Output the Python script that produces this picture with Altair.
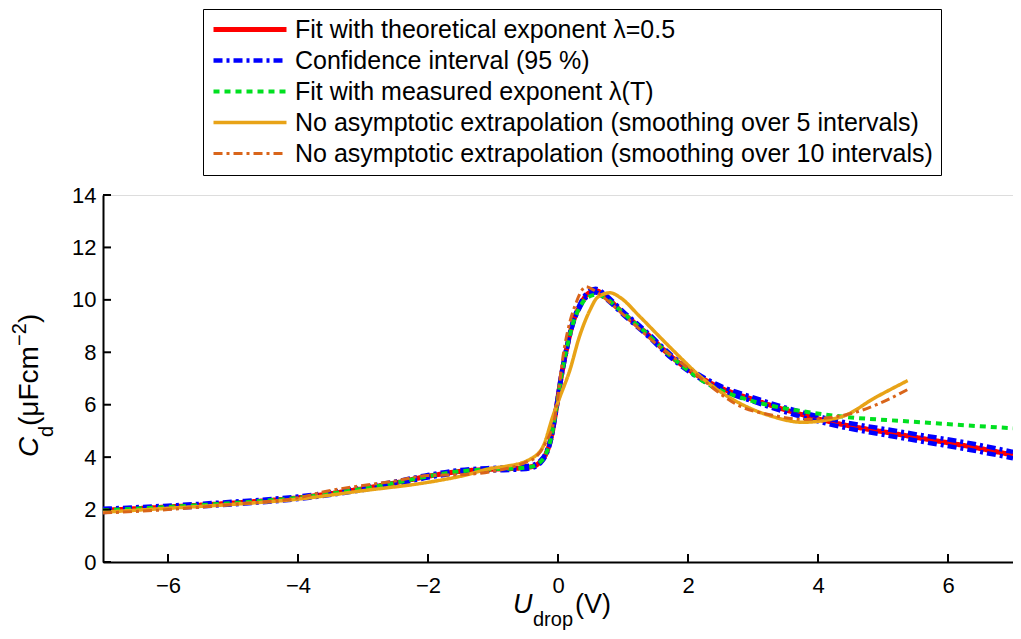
import altair as alt
import pandas as pd

# ---------------- data ----------------
series_names = [
    "Fit with theoretical exponent λ=0.5",
    "Confidence interval (95 %)",
    "Fit with measured exponent λ(T)",
    "No asymptotic extrapolation (smoothing over 5 intervals)",
    "No asymptotic extrapolation (smoothing over 10 intervals)",
]
series_colors = ["#FF0000", "#0000FF", "#00E020", "#E8A317", "#D9651A"]
series_dash = [[1, 0], [9, 4, 3, 4], [6, 5], [1, 0], [9, 4, 3, 4]]
series_width = [5, 3, 2.5, 2, 2.5]

red_x = [-7, -6, -5, -4, -3, -2.5, -2, -1.5, -1, -0.6, -0.4, -0.28, -0.2, -0.1, -0.03,
         0.05, 0.13, 0.23, 0.33, 0.46, 0.58, 0.74, 1.0, 1.35, 1.76, 2.33, 3.1, 4.1, 5.4, 6.41, 7]
red_y = [1.97, 2.1, 2.25, 2.45, 2.8, 3.02, 3.27, 3.46, 3.54, 3.58, 3.64, 3.8, 4.05, 4.8, 5.8,
         7.07, 8.1, 9.13, 9.74, 10.23, 10.35, 10.1, 9.5, 8.75, 7.8, 6.85, 6.12, 5.4, 4.8, 4.37, 4.08]

blue_hi = [2.03, 2.15, 2.3, 2.5, 2.85, 3.07, 3.32, 3.51, 3.59, 3.63, 3.69, 3.85, 4.1, 4.85, 5.85,
           7.12, 8.15, 9.18, 9.8, 10.3, 10.42, 10.17, 9.56, 8.81, 7.86, 6.92, 6.2, 5.5, 4.92, 4.5, 4.2]
blue_lo = [1.91, 2.05, 2.2, 2.4, 2.75, 2.97, 3.22, 3.41, 3.49, 3.53, 3.59, 3.75, 4.0, 4.75, 5.75,
           7.02, 8.05, 9.08, 9.68, 10.16, 10.28, 10.03, 9.44, 8.69, 7.74, 6.78, 6.04, 5.3, 4.68, 4.24, 3.96]

green_x = [-7, -6, -5, -4, -3, -2.5, -2, -1.5, -1, -0.6, -0.4, -0.28, -0.2, -0.1, -0.03, 0.05,
           0.13, 0.23, 0.33, 0.46, 0.6, 0.74, 1.0, 1.35, 1.76, 2.33, 2.84, 3.3, 3.76, 4.37, 5.4, 7]
green_y = [1.97, 2.1, 2.25, 2.45, 2.8, 3.02, 3.27, 3.46, 3.54, 3.58, 3.64, 3.8, 4.05, 4.8, 5.8, 7.07,
           8.1, 9.1, 9.7, 10.1, 10.2, 10.05, 9.5, 8.75, 7.8, 6.75, 6.25, 5.95, 5.75, 5.55, 5.36, 5.1]

or5_x = [-7, -6, -5, -4, -3, -2, -1.5, -1, -0.8, -0.43, -0.23, -0.08, 0.03, 0.18, 0.33, 0.49,
         0.61, 0.8, 0.95, 1.26, 1.56, 1.76, 2.3, 2.84, 3.3, 3.76, 4.37, 4.88, 5.38]
or5_y = [1.9, 2.05, 2.2, 2.4, 2.72, 3.04, 3.27, 3.58, 3.65, 3.92, 4.4, 5.55, 6.3, 7.3, 8.6, 9.6,
         10.1, 10.27, 10.1, 9.36, 8.6, 8.1, 6.85, 6.0, 5.55, 5.33, 5.55, 6.27, 6.92]

or10_x = [-7, -6, -5, -4, -3.56, -3, -2.53, -2, -1.5, -1, -0.5, -0.34, -0.2, -0.05, 0.1, 0.28,
          0.43, 0.53, 0.7, 1.0, 1.5, 2.0, 2.84, 3.3, 3.76, 4.4, 4.9, 5.38]
or10_y = [1.87, 2.0, 2.2, 2.45, 2.7, 2.92, 3.08, 3.3, 3.33, 3.46, 3.8, 4.0, 4.5, 5.5, 8.2, 9.9,
          10.5, 10.4, 10.1, 9.45, 8.35, 7.4, 5.9, 5.6, 5.44, 5.6, 6.0, 6.58]

x_ticks = [-6, -4, -2, 0, 2, 4, 6]
y_ticks = [0, 2, 4, 6, 8, 10, 12, 14]

# ---------------- build table ----------------
rows = []
def add(name, part, xs, ys):
    for i, (a, b) in enumerate(zip(xs, ys)):
        rows.append({"series": name, "part": part, "i": i, "x": a, "y": b})

add(series_names[0], "a", red_x, red_y)
add(series_names[1], "hi", red_x, blue_hi)
add(series_names[1], "lo", red_x, blue_lo)
add(series_names[2], "a", green_x, green_y)
add(series_names[3], "a", or5_x, or5_y)
add(series_names[4], "a", or10_x, or10_y)
df = pd.DataFrame(rows)

FONT = "Liberation Sans"
W, H = 910, 367

xscale = alt.Scale(domain=[-7, 7], nice=False, zero=False)
yscale = alt.Scale(domain=[0, 14], nice=False, zero=False)

x_axis = alt.Axis(values=x_ticks, title=None, ticks=False, tickSize=0, format="~g",
                  labelPadding=13, grid=False, domainColor="black",
                  domainWidth=2, labelFontSize=22, labelFont=FONT, labelColor="black")
y_axis = alt.Axis(values=y_ticks, title=None, ticks=False, tickSize=0, format="~g",
                  labelPadding=7, grid=False, domainColor="black",
                  domainWidth=2, labelFontSize=22, labelFont=FONT, labelColor="black")

legend = alt.Legend(
    title=None, orient="none", legendX=100, legendY=-186, direction="vertical",
    fillColor="white", strokeColor="black", padding=8,
    symbolType="M-1,0H6.3", symbolSize=400,
    labelFont=FONT, labelFontSize=25, labelColor="black", labelOffset=59,
    rowPadding=5, labelLimit=900,
)

enc = dict(
    x=alt.X("x:Q", scale=xscale, axis=x_axis),
    y=alt.Y("y:Q", scale=yscale, axis=y_axis),
    stroke=alt.Stroke("series:N",
                      scale=alt.Scale(domain=series_names, range=series_colors),
                      legend=legend),
    strokeDash=alt.StrokeDash("series:N",
                              scale=alt.Scale(domain=series_names, range=series_dash),
                              legend=legend),
    strokeWidth=alt.StrokeWidth("series:N",
                                scale=alt.Scale(domain=series_names, range=series_width),
                                legend=legend),
    detail="part:N",
    order="i:Q",
)

base = alt.Chart(df)
layers = []
for k, name in enumerate(series_names):
    layers.append(
        base.transform_filter(alt.datum.series == name)
        .mark_line(interpolate="monotone", clip=True, strokeCap="butt")
        .encode(**enc)
    )

# inward tick marks
ytick_df = pd.DataFrame({"v": y_ticks})
xtick_df = pd.DataFrame({"v": x_ticks})
yt = alt.Chart(ytick_df).mark_rule(color="black", strokeWidth=2).encode(
    y=alt.Y("v:Q", scale=yscale, axis=y_axis), x=alt.value(0), x2=alt.value(8))
xt = alt.Chart(xtick_df).mark_rule(color="black", strokeWidth=2).encode(
    x=alt.X("v:Q", scale=xscale, axis=x_axis), y=alt.value(H), y2=alt.value(H - 8))

# axis titles with sub/superscripts
def txt(s, px, py, size, angle=0, italic=False):
    return alt.Chart(pd.DataFrame({"t": [s]})).mark_text(
        font=FONT, fontSize=size, align="left", baseline="alphabetic",
        angle=angle, fontStyle="italic" if italic else "normal", color="black"
    ).encode(text="t:N", x=alt.value(px), y=alt.value(py))

x_title = [
    txt("U", 410, 418, 27, italic=True),
    txt("drop", 430, 431, 20),
    txt("(V)", 472, 418, 27),
]
y_title = [
    txt("C", -65, 262, 28, angle=270, italic=True),
    txt("d", -50, 242, 20, angle=270),
    txt("(μFcm", -65, 231, 28, angle=270),
    txt("−2", -77, 151, 20, angle=270),
    txt(")", -65, 128, 28, angle=270),
]

chart = alt.layer(*layers, yt, xt, *x_title, *y_title).properties(
    width=W, height=H,
    autosize=alt.AutoSizeParams(type="none"),
    padding={"left": 95, "top": 187, "right": 0, "bottom": 69},
).configure_view(stroke=None).configure_axis(grid=False).configure(background="white")

chart.save("out.html", embed_options={"renderer": "svg", "actions": False})
